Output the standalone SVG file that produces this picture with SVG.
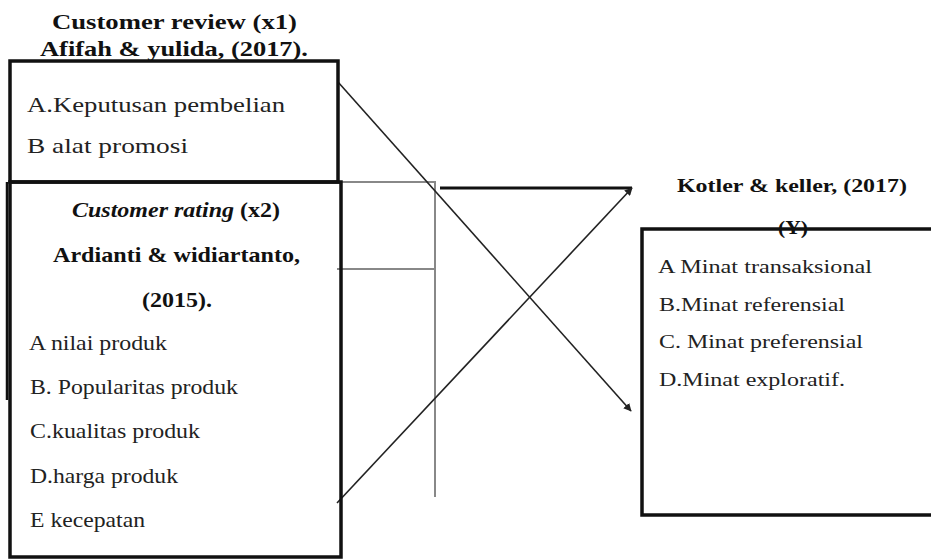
<svg xmlns="http://www.w3.org/2000/svg" width="931" height="560" viewBox="0 0 931 560" font-family="'Liberation Serif', 'Times New Roman', Tinos, serif">
<defs>
<style>
text{font-family:'Liberation Serif','Times New Roman',Tinos,serif;font-size:21px;fill:#222}
.b{font-weight:bold;fill:#111}
.bx{fill:none;stroke:#111;stroke-width:3.5}
.g{stroke:#888;stroke-width:2;fill:none}
.ln{stroke:#222;stroke-width:1.6;fill:none}
</style>
<marker id="ah" viewBox="0 0 10 10" refX="9" refY="5" markerWidth="8" markerHeight="8" orient="auto" markerUnits="userSpaceOnUse">
<path d="M0,0 L10,5 L0,10 z" fill="#222"/>
</marker>
</defs>
<rect width="931" height="560" fill="#fff"/>

<g id="connectors">
<line class="g" x1="342" y1="182" x2="436" y2="182"/>
<line class="g" x1="435" y1="182" x2="435" y2="497"/>
<line class="g" x1="337" y1="269" x2="434" y2="269"/>
<line x1="440" y1="188" x2="632" y2="188" stroke="#111" stroke-width="3"/>
<line class="ln" x1="338" y1="82" x2="631" y2="411" marker-end="url(#ah)"/>
<line class="ln" x1="337" y1="503" x2="632" y2="188" marker-end="url(#ah)"/>
</g>

<g id="x1">
<text class="b" x="52" y="29" textLength="245" lengthAdjust="spacingAndGlyphs">Customer review (x1)</text>
<text class="b" x="40" y="56" textLength="268" lengthAdjust="spacingAndGlyphs">Afifah &amp; yulida, (2017).</text>
<rect class="bx" x="10" y="61" width="328" height="121"/>
<text x="27" y="112" textLength="258" lengthAdjust="spacingAndGlyphs">A.Keputusan pembelian</text>
<text x="27" y="153" textLength="161" lengthAdjust="spacingAndGlyphs">B alat promosi</text>
</g>

<g id="x2">
<rect class="bx" x="10" y="182" width="331" height="375"/>
<line x1="7" y1="182" x2="7" y2="400" stroke="#111" stroke-width="2.5"/>
<text class="b" x="72" y="217" textLength="208" lengthAdjust="spacingAndGlyphs"><tspan font-style="italic">Customer rating</tspan> (x2)</text>
<text class="b" x="53" y="262" textLength="247" lengthAdjust="spacingAndGlyphs">Ardianti &amp; widiartanto,</text>
<text class="b" x="142" y="307" textLength="70" lengthAdjust="spacingAndGlyphs">(2015).</text>
<text x="29" y="350" textLength="138" lengthAdjust="spacingAndGlyphs">A nilai produk</text>
<text x="30" y="394" textLength="208" lengthAdjust="spacingAndGlyphs">B. Popularitas produk</text>
<text x="30" y="438" textLength="170" lengthAdjust="spacingAndGlyphs">C.kualitas produk</text>
<text x="30" y="483" textLength="148" lengthAdjust="spacingAndGlyphs">D.harga produk</text>
<text x="30" y="527" textLength="115" lengthAdjust="spacingAndGlyphs">E kecepatan</text>
</g>

<g id="y">
<text class="b" x="677" y="192" textLength="230" lengthAdjust="spacingAndGlyphs" style="font-size:19px">Kotler &amp; keller, (2017)</text>
<text class="b" x="778" y="234" textLength="30" lengthAdjust="spacingAndGlyphs" style="font-size:19px">(Y)</text>
<rect class="bx" x="642" y="229" width="300" height="286"/>
<text x="658" y="273" textLength="214" lengthAdjust="spacingAndGlyphs" style="font-size:19px">A Minat transaksional</text>
<text x="659" y="311" textLength="186" lengthAdjust="spacingAndGlyphs" style="font-size:19px">B.Minat referensial</text>
<text x="659" y="348" textLength="204" lengthAdjust="spacingAndGlyphs" style="font-size:19px">C. Minat preferensial</text>
<text x="659" y="386" textLength="186" lengthAdjust="spacingAndGlyphs" style="font-size:19px">D.Minat exploratif.</text>
</g>
</svg>
